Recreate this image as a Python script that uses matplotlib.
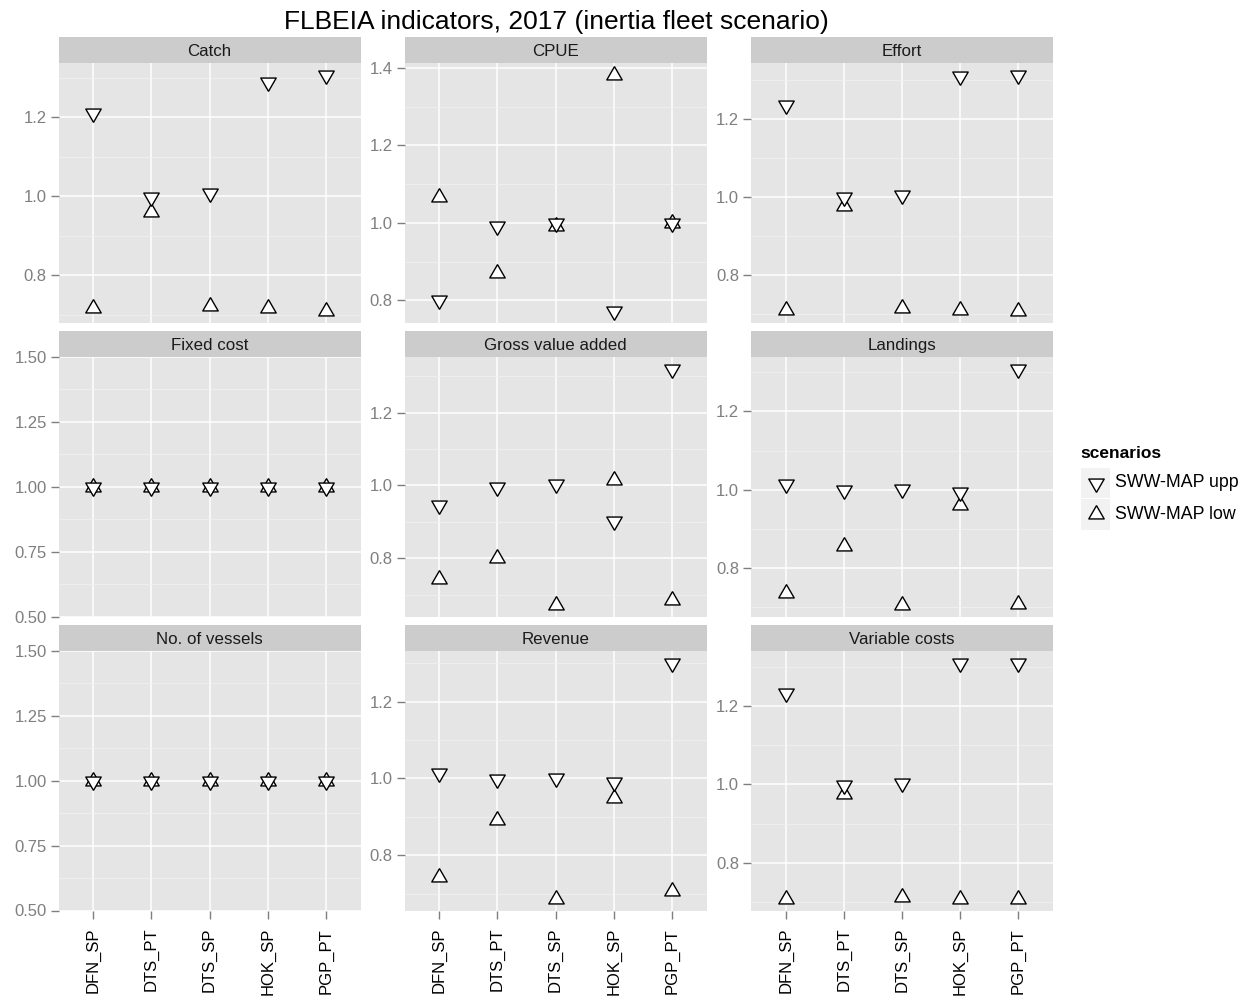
import matplotlib
matplotlib.use('Agg')
import matplotlib.pyplot as plt
import matplotlib.ticker as mtick
from matplotlib.patches import Rectangle
from matplotlib.lines import Line2D

plt.rcParams['font.family'] = ['Liberation Sans', 'DejaVu Sans']

fleets = ['DFN_SP', 'DTS_PT', 'DTS_SP', 'HOK_SP', 'PGP_PT']
indicators = ['Catch', 'CPUE', 'Effort',
              'Fixed cost', 'Gross value added', 'Landings',
              'No. of vessels', 'Revenue', 'Variable costs']
scenarios = ['SWW-MAP upp', 'SWW-MAP low']

# indicator values relative to the base case, one list per scenario
catch_upp = [1.211, 0.998, 1.008, 1.289, 1.306]
catch_low = [0.717, 0.959, 0.721, 0.717, 0.709]
cpue_upp = [0.802, 0.992, 1.000, 0.772, 1.000]
cpue_low = [1.066, 0.870, 0.992, 1.381, 1.000]
effort_upp = [1.236, 1.001, 1.005, 1.310, 1.312]
effort_low = [0.709, 0.977, 0.714, 0.709, 0.707]
fixed_upp = [1.0, 1.0, 1.0, 1.0, 1.0]
fixed_low = [1.0, 1.0, 1.0, 1.0, 1.0]
gva_upp = [0.947, 0.997, 1.004, 0.902, 1.320]
gva_low = [0.744, 0.801, 0.673, 1.015, 0.687]
landings_upp = [1.014, 0.999, 1.003, 0.993, 1.309]
landings_low = [0.736, 0.857, 0.706, 0.962, 0.708]
vessels_upp = [1.0, 1.0, 1.0, 1.0, 1.0]
vessels_low = [1.0, 1.0, 1.0, 1.0, 1.0]
revenue_upp = [1.014, 0.999, 1.001, 0.990, 1.301]
revenue_low = [0.744, 0.891, 0.687, 0.950, 0.708]
varcost_upp = [1.234, 0.999, 1.003, 1.309, 1.310]
varcost_low = [0.709, 0.975, 0.714, 0.709, 0.709]

upp = [catch_upp, cpue_upp, effort_upp, fixed_upp, gva_upp,
       landings_upp, vessels_upp, revenue_upp, varcost_upp]
low = [catch_low, cpue_low, effort_low, fixed_low, gva_low,
       landings_low, vessels_low, revenue_low, varcost_low]

# R-style triangles centred on their centroid
tri_up = [(0, 1.5551), (1.3468, -0.7776), (-1.3468, -0.7776), (0, 1.5551)]
tri_down = [(0, -1.5551), (1.3468, 0.7776), (-1.3468, 0.7776), (0, -1.5551)]
MS = 12.8

W, H = 1248, 997
fig = plt.figure(figsize=(W / 100, H / 100), dpi=100)

col_x = [58.5, 404.5, 751]
row_top = [63.5, 357, 651]
pw, ph = 302, 259.5
strip_h = 26

grey50 = '#7F7F7F'
for i, name in enumerate(indicators):
    r, c = divmod(i, 3)
    ax = fig.add_axes([col_x[c] / W, 1 - (row_top[r] + ph) / H, pw / W, ph / H])
    ax.set_facecolor('#E5E5E5')
    for s in ax.spines.values():
        s.set_visible(False)

    x = list(range(len(fleets)))
    ax.plot(x, low[i], ls='none', marker=tri_up, ms=MS, mfc='white',
            mec='black', mew=1.0, zorder=3)
    ax.plot(x, upp[i], ls='none', marker=tri_down, ms=MS, mfc='white',
            mec='black', mew=1.0, zorder=4)

    ax.set_xlim(-0.6, len(fleets) - 0.4)
    if min(upp[i] + low[i]) == max(upp[i] + low[i]):
        ax.set_ylim(0.5, 1.5)
        ax.yaxis.set_major_locator(mtick.MultipleLocator(0.25))
        ax.yaxis.set_major_formatter(mtick.FormatStrFormatter('%.2f'))
    else:
        ax.margins(y=0.05)
        ax.yaxis.set_major_locator(mtick.MultipleLocator(0.2))
        ax.yaxis.set_major_formatter(mtick.FormatStrFormatter('%.1f'))
    ax.yaxis.set_minor_locator(mtick.AutoMinorLocator(2))

    ax.set_axisbelow(True)
    ax.grid(which='major', color='white', lw=1.1)
    ax.grid(which='minor', axis='y', color='#F2F2F2', lw=0.55)

    ax.tick_params(axis='y', which='major', direction='out', length=5.5,
                   width=1.0, color=grey50, labelcolor=grey50,
                   labelsize=12, pad=3)
    ax.tick_params(axis='y', which='minor', length=0)
    ax.set_xticks(x)
    if r == 2:
        ax.set_xticklabels(fleets, rotation=90)
        ax.tick_params(axis='x', direction='out', length=5.5, width=1.0,
                       color=grey50, labelcolor='black', labelsize=12, pad=7)
    else:
        ax.tick_params(axis='x', bottom=False, labelbottom=False)

    # facet strip
    sh = strip_h / ph
    ax.add_patch(Rectangle((0, 1), 1, sh, transform=ax.transAxes,
                           clip_on=False, facecolor='#CCCCCC', edgecolor='none'))
    ax.text(0.5, 1 + sh / 2, name, transform=ax.transAxes, ha='center',
            va='center_baseline', fontsize=12.2, color='#1A1A1A')

fig.text(556 / W, 1 - 22 / H, 'FLBEIA indicators, 2017 (inertia fleet scenario)',
         ha='center', va='center', fontsize=19)

# legend
fig.text(1080 / W, 1 - 453 / H, 'scenarios', ha='left', va='center',
         fontsize=12.5, fontweight='bold')
key_top = [467.5, 499]
key_h = 30.5
for k, (lab, mk) in enumerate(zip(scenarios, [tri_down, tri_up])):
    y0 = key_top[k]
    fig.add_artist(Rectangle((1080.5 / W, 1 - (y0 + key_h) / H), 29.5 / W, key_h / H,
                             transform=fig.transFigure, facecolor='#F2F2F2',
                             edgecolor='none'))
    yc = 1 - (y0 + key_h / 2) / H
    fig.add_artist(Line2D([1095.5 / W], [yc], transform=fig.transFigure,
                          ls='none', marker=mk, ms=MS, mfc='white',
                          mec='black', mew=1.0))
    fig.text(1115 / W, yc, lab, ha='left', va='center', fontsize=12.8)

fig.savefig('out.png', dpi=100, facecolor='white')
